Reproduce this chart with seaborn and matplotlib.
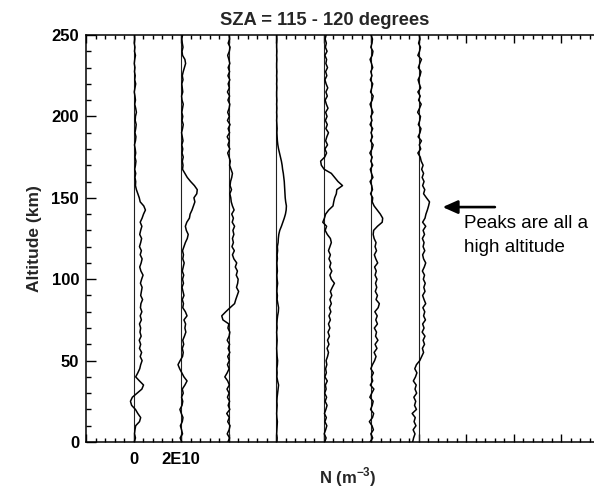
import numpy as np
import pandas as pd
import matplotlib
matplotlib.use("Agg")
import matplotlib.pyplot as plt
from matplotlib.ticker import FixedLocator, MultipleLocator
import seaborn as sns

# ---------------- data ----------------
altitude_km = np.linspace(0, 250, 101)          # 2.5 km grid
offsets = [0, 2e10, 4e10, 6e10, 8e10, 10e10, 12e10]   # horizontal offset of each profile (m^-3)

# densities of each profile, in units of 1e9 m^-3
p1 = [0.3, 0.8, 0.4, 0.6, 0.9, 2.5, 3.0, 1.8, 0.8, -0.8,
      -1.3, -0.5, 1.5, 3.5, 4.2, 2.5, 0.9, 1.8, 2.6, 3.0,
      3.6, 2.8, 3.4, 2.5, 3.0, 2.4, 3.2, 2.7, 3.0, 2.5,
      3.3, 2.8, 3.5, 2.9, 3.1, 3.8, 3.0, 3.3, 3.6, 2.9,
      3.4, 4.0, 3.1, 2.6, 3.2, 3.6, 2.8, 3.3, 2.5, 3.0,
      3.4, 2.6, 3.0, 3.5, 2.8, 3.6, 4.2, 5.0, 4.3, 2.8,
      2.4, 1.8, 1.2, 0.8, 0.9, 0.6, 0.9, 0.5, 0.8, 1.0,
      0.6, 0.9, 0.7, 0.4, 0.8, 1.0, 0.6, 0.9, 1.1, 0.7,
      0.8, 1.2, 0.9, 0.5, 0.8, 0.6, 0.3, 0.6, 0.9, 0.5,
      0.7, 0.4, 0.6, 0.3, 0.5, 0.8, 0.4, 0.6, 0.3, 0.5,
      0.4]
p2 = [0.3, -0.4, 0.6, 0.2, -0.3, 0.5, 0.8, 0.1, -0.5, 0.4,
      0.7, 0.2, 0.9, 0.5, 1.6, 2.5, 1.2, 0.3, -0.6, -1.3,
      -0.4, 0.6, 0.9, 0.5, 1.1, 0.7, 1.4, 2.0, 1.6, 1.9,
      1.2, 2.5, 1.8, 0.7, 1.0, 0.5, 1.2, 0.8, 0.4, 1.0,
      0.6, 1.1, 0.5, 0.9, 1.3, 0.7, 1.0, 0.6, 1.2, 1.8,
      2.6, 3.0, 2.2, 1.8, 2.4, 3.5, 3.8, 4.6, 5.2, 5.8,
      5.4, 6.6, 6.8, 5.6, 4.0, 2.6, 1.6, 0.6, 0.8, 0.5,
      0.9, 0.4, 0.7, 0.3, 0.8, 0.5, 0.2, 0.6, 0.9, 0.4,
      0.7, 0.3, 0.6, 0.9, 0.4, 0.2, 0.7, 0.5, 0.3, 0.8,
      0.5, 0.9, 1.4, 1.9, 1.6, 0.6, 0.4, 0.8, 0.5, 0.3,
      0.6]
p3 = [-0.3, 0.4, -0.6, 0.2, 0.6, -0.4, 0.3, -0.8, 0.5, -0.2,
      0.4, -0.5, 0.2, -0.7, 0.3, -0.4, -1.6, -0.6, 0.2, -0.5,
      0.3, -0.4, 0.5, -0.2, 0.4, -0.6, 0.2, 0.5, -0.3, 0.1,
      -2.4, -2.9, -1.2, 0.6, 2.5, 3.0, 3.6, 4.2, 3.3, 3.8,
      4.0, 3.2, 3.7, 2.8, 3.4, 2.2, 1.6, 2.4, 1.4, 2.0,
      1.6, 2.2, 1.8, 2.5, 1.5, 2.0, 1.3, 2.3, 1.6, 1.1,
      0.9, 0.5, 1.2, 0.6, 0.8, 1.3, 1.6, 1.0, 0.4, 0.7,
      0.2, -0.4, 0.5, -0.3, 0.3, -0.6, 0.4, -0.2, 0.6, -0.5,
      0.3, -0.4, 0.2, 0.5, -0.3, 0.4, -0.5, 0.3, -0.2, 0.5,
      -0.3, 0.4, -0.2, 0.5, 0.1, -0.4, 0.3, 0.6, -0.2, 0.4,
      0.2]
p4 = [0.3, 0.4, 0.2, 0.3, 0.4, 0.5, 0.3, 0.2, 0.3, 0.4,
      0.3, 0.4, 0.6, 0.8, 1.0, 0.6, 0.3, 0.4, 0.3, 0.5,
      0.6, 0.4, 0.3, 0.2, 0.3, 0.4, 0.3, 0.2, 0.4, 0.3,
      0.4, 0.6, 0.9, 1.0, 0.7, 0.4, 0.5, 0.3, 0.4, 0.6,
      0.4, 0.3, 0.5, 0.4, 0.3, 0.5, 0.4, 0.6, 0.5, 0.8,
      0.9, 1.1, 1.5, 2.2, 2.8, 3.4, 3.9, 4.2, 4.3, 4.0,
      3.8, 3.7, 3.6, 3.5, 3.4, 3.2, 3.0, 2.7, 2.5, 2.2,
      1.8, 1.4, 1.0, 0.7, 0.5, 0.4, 0.3, 0.4, 0.3, 0.2,
      0.3, 0.2, 0.3, 0.2, 0.3, 0.2, 0.2, 0.3, 0.2, 0.3,
      0.2, 0.3, 0.2, 0.2, 0.3, 0.2, 0.3, 0.2, 0.2, 0.3,
      0.2]
p5 = [0.4, 1.0, 0.2, 0.8, 1.3, 0.5, 1.1, 0.3, 0.9, 1.4,
      0.6, 1.2, 0.4, 1.0, 0.7, 1.5, 0.5, 1.1, 0.8, 1.3,
      1.0, 1.6, 2.0, 1.4, 2.2, 1.6, 2.4, 1.8, 2.6, 2.0,
      2.8, 2.2, 3.0, 2.4, 3.2, 2.6, 3.4, 2.8, 3.6, 4.5,
      3.2, 2.6, 3.4, 2.5, 3.0, 2.2, 2.8, 2.0, 2.6, 3.2,
      2.8, 1.5, 0.6, 1.2, -0.4, 0.3, 0.8, 2.1, 3.9, 4.2,
      4.6, 5.3, 5.5, 7.9, 6.0, 4.6, 3.2, 0.2, -1.0, -1.3,
      0.4, 1.2, 0.5, 1.6, 0.8, 1.3, 2.0, 0.9, 1.5, 0.7,
      1.4, 0.8, 1.8, 1.1, 0.6, 1.5, 0.9, 1.7, 1.0, 0.5,
      1.3, 0.8, 1.6, 0.9, 1.2, 0.5, 1.4, 0.7, 1.1, 0.6,
      1.0]
p6 = [-0.5, 0.6, -0.2, 0.9, 0.3, -0.8, 0.5, 1.0, -0.3, 0.4,
      0.8, -0.6, 0.2, 1.1, -0.4, 0.6, 0.1, 0.9, -0.2, 0.5,
      1.4, 2.0, 1.2, 2.4, 1.6, 2.8, 1.8, 2.2, 1.3, 2.6,
      1.9, 2.5, 1.5, 2.9, 3.4, 2.0, 2.6, 1.7, 2.3, 1.8,
      2.4, 1.6, 2.1, 1.4, 2.7, 1.9, 1.3, 2.2, 1.6, 2.0,
      1.2, 0.8, 1.0, 2.6, 4.6, 4.8, 3.8, 2.5, 1.2, 0.4,
      0.6, -0.3, 0.5, 0.2, -0.5, 0.7, 0.1, -0.4, 0.6, -0.2,
      0.4, -0.6, 0.3, 0.8, -0.3, 0.5, -0.1, 0.6, -0.5, 0.3,
      -0.2, 0.7, 0.1, -0.5, 0.4, 0.8, -0.3, 0.2, 0.6, -0.4,
      0.3, -0.2, 0.6, 0.1, -0.5, 0.4, 0.7, -0.2, 0.3, 0.5,
      -0.1]
p7 = [-2.6, -2.2, -1.6, -2.4, -1.2, -2.0, -1.5, -2.8, -1.0, -1.8,
      -1.3, -2.1, -0.9, -1.6, -1.1, -2.3, -1.4, -0.8, -1.7, -1.0,
      0.4, 1.2, 2.0, 1.5, 2.4, 1.8, 2.6, 1.4, 2.2, 1.6,
      2.8, 2.0, 2.5, 1.7, 2.9, 2.2, 1.6, 2.6, 2.1, 2.7,
      1.9, 2.4, 1.5, 2.3, 2.9, 2.0, 1.6, 2.5, 1.8, 2.2,
      1.5, 2.4, 1.8, 2.9, 1.6, 2.6, 3.0, 3.6, 4.1, 4.5,
      3.2, 2.0, 2.5, 1.6, 2.2, 1.4, 2.0, 1.2, 1.8, 1.0,
      0.6, -0.4, 0.8, 0.2, 1.1, -0.3, 0.5, 0.9, -0.2, 0.4,
      0.7, -0.5, 0.3, 1.0, -0.1, 0.6, -0.4, 0.8, 0.2, -0.3,
      0.5, 0.9, -0.2, 0.4, 1.1, -0.4, 0.3, 0.7, -0.1, 0.5,
      0.2]
profiles = [p1, p2, p3, p4, p5, p6, p7]

x_ticks = [-2e10, 0, 2e10, 4e10, 6e10, 8e10, 10e10, 12e10, 14e10, 16e10, 18e10, 20e10]
x_tick_labels = ["", "0", "2E10", "", "", "", "", "", "", "", "", ""]
y_ticks = [0, 50, 100, 150, 200, 250]

title_text = "SZA = 115 - 120 degrees"
note_text = "Peaks are all a\nhigh altitude"   # as far as the (cropped) reference shows

# ---------------- build long table ----------------
rows = []
for k, (off, vals) in enumerate(zip(offsets, profiles)):
    for a, v in zip(altitude_km, vals):
        rows.append({"profile": k, "alt": a, "N": off + v * 1e9})
df = pd.DataFrame(rows)

# ---------------- style ----------------
sns.set_style("white")
plt.rcParams["font.family"] = ["Liberation Sans", "DejaVu Sans"]
plt.rcParams["mathtext.fontset"] = "custom"
plt.rcParams["mathtext.rm"] = "Liberation Sans"
plt.rcParams["mathtext.bf"] = "Liberation Sans:bold"

fig = plt.figure(figsize=(5.94, 4.88), dpi=100)
ax = fig.add_axes([86 / 594, 46 / 488, 523 / 594, 407 / 488])

for off in offsets:
    ax.axvline(off, color="#222222", lw=0.8, zorder=1)

sns.lineplot(data=df, x="N", y="alt", units="profile", estimator=None,
             sort=False, color="black", linewidth=1.1, legend=False, ax=ax)

ax.set_xlim(-2e10, 20e10)
ax.set_ylim(0, 250)

ax.xaxis.set_major_locator(FixedLocator(x_ticks))
ax.set_xticklabels(x_tick_labels)
ax.xaxis.set_minor_locator(MultipleLocator(0.4e10))
ax.yaxis.set_major_locator(FixedLocator(y_ticks))
ax.set_yticklabels([str(t) for t in y_ticks])
ax.yaxis.set_minor_locator(MultipleLocator(10))

ax.tick_params(which="both", direction="in", top=True, right=True,
               bottom=True, left=True,
               width=1.0, color="black", labelsize=12, labelcolor="black")
ax.tick_params(axis="y", which="major", length=7, pad=5)
ax.tick_params(axis="y", which="minor", length=3.5)
ax.tick_params(axis="x", which="major", length=6, pad=7)
ax.tick_params(axis="x", which="minor", length=3)
for lab in ax.get_xticklabels() + ax.get_yticklabels():
    lab.set_fontweight("bold")

for s in ax.spines.values():
    s.set_linewidth(1.1)
    s.set_color("black")

ax.set_title(title_text, fontsize=13.2, fontweight="bold", x=0.457, y=1.0246, pad=0)
ax.set_ylabel("Altitude (km)", fontsize=12.5, fontweight="bold")
ax.yaxis.set_label_coords(-0.084, 0.5)
ax.set_xlabel(r"N (m$^{\mathbf{-3}}$)", fontsize=12, fontweight="bold")
ax.xaxis.set_label_coords(0.5, -0.057)

ax.annotate("", xy=(13.0e10, 144.3), xytext=(15.2e10, 144.3),
            arrowprops=dict(arrowstyle="-|>,head_length=0.9,head_width=0.4",
                            color="black", lw=1.9, mutation_scale=10,
                            shrinkA=0, shrinkB=0))
ax.text(13.88e10, 116.5, note_text, fontsize=13.5, ha="left", va="baseline",
        linespacing=1.55, color="black")

fig.savefig("out.png", dpi=100)
